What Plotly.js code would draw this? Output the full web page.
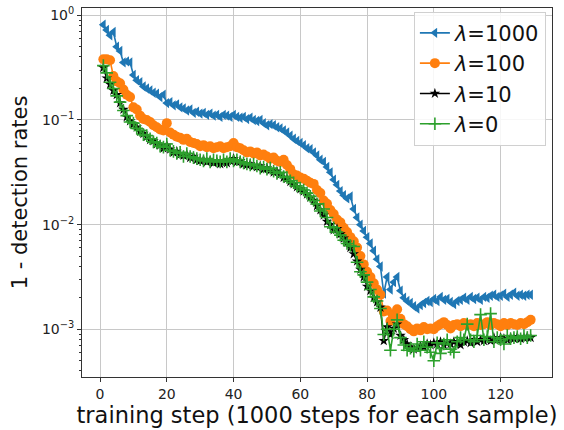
<!DOCTYPE html>
<html>
<head>
<meta charset="utf-8">
<script src="https://cdn.plot.ly/plotly-3.0.1.min.js"></script>
<style>html,body{margin:0;padding:0;background:#fff}#chart{width:564px;height:430px}</style>
</head>
<body>
<div id="chart"></div>
<script>
var steps = [];
for (var i = 1; i <= 129; i++) steps.push(i);

var seriesNames = ["<i>λ</i>=1000", "<i>λ</i>=100", "<i>λ</i>=10", "<i>λ</i>=0"];

var lambda1000 = [0.813,0.724,0.646,0.692,0.501,0.457,0.355,0.363,0.355,0.269,
0.240,0.229,0.209,0.200,0.191,0.182,0.178,0.166,0.174,0.145,
0.148,0.138,0.141,0.132,0.129,0.123,0.126,0.117,0.120,0.115,
0.117,0.112,0.115,0.110,0.112,0.107,0.112,0.110,0.107,0.112,
0.107,0.105,0.107,0.102,0.105,0.100,0.0977,0.100,0.0933,0.0891,
0.0912,0.0891,0.0851,0.0832,0.0794,0.0759,0.0708,0.0661,0.0631,0.0603,
0.0575,0.0537,0.0525,0.0490,0.0457,0.0417,0.0398,0.0355,0.0316,0.0269,
0.0240,0.0209,0.0191,0.0178,0.0186,0.0141,0.0117,0.0100,0.00871,0.00759,
0.00661,0.00562,0.00468,0.00398,0.00219,0.00316,0.00240,0.00282,0.00316,0.00234,
0.00200,0.00186,0.00178,0.00166,0.00158,0.00170,0.00178,0.00186,0.00182,0.00195,
0.00186,0.00204,0.00191,0.00195,0.00182,0.00174,0.00186,0.00191,0.00200,0.00191,
0.00204,0.00195,0.00200,0.00191,0.00204,0.00200,0.00209,0.00214,0.00204,0.00209,
0.00219,0.00204,0.00214,0.00224,0.00209,0.00214,0.00209,0.00214,0.00214];

var lambda100 = [0.380,0.380,0.372,0.263,0.234,0.224,0.195,0.174,0.166,0.132,
0.126,0.110,0.102,0.100,0.0955,0.0891,0.0851,0.0813,0.0794,0.0933,
0.0759,0.0724,0.0692,0.0676,0.0646,0.0661,0.0617,0.0603,0.0589,0.0562,
0.0575,0.0550,0.0562,0.0537,0.0550,0.0562,0.0537,0.0550,0.0562,0.0603,
0.0550,0.0537,0.0513,0.0490,0.0501,0.0479,0.0490,0.0457,0.0468,0.0447,
0.0427,0.0437,0.0407,0.0398,0.0417,0.0372,0.0339,0.0302,0.0295,0.0282,
0.0275,0.0263,0.0251,0.0245,0.0214,0.0200,0.0170,0.0158,0.0138,0.0126,
0.0112,0.0105,0.00933,0.00851,0.00759,0.00692,0.00603,0.00501,0.00417,0.00355,
0.00316,0.00275,0.00240,0.00214,0.00148,0.00151,0.00120,0.00138,0.00155,0.00126,
0.00112,0.00107,0.00100,0.000955,0.00102,0.000977,0.00105,0.00100,0.00102,0.00100,
0.00107,0.00112,0.00117,0.00110,0.00102,0.00110,0.00112,0.00107,0.00115,0.00110,
0.00112,0.00107,0.00115,0.00110,0.00112,0.00117,0.00110,0.00115,0.00112,0.00107,
0.00115,0.00110,0.00115,0.00112,0.00110,0.00115,0.00112,0.00117,0.00123];

var lambda10 = [0.316,0.251,0.219,0.191,0.174,0.145,0.126,0.107,0.0977,0.0912,
0.0851,0.0776,0.0741,0.0692,0.0646,0.0631,0.0589,0.0575,0.0537,0.0575,
0.0525,0.0490,0.0501,0.0468,0.0457,0.0468,0.0437,0.0447,0.0417,0.0407,
0.0417,0.0398,0.0407,0.0389,0.0398,0.0380,0.0398,0.0389,0.0407,0.0427,
0.0398,0.0407,0.0380,0.0372,0.0380,0.0363,0.0355,0.0363,0.0339,0.0347,
0.0331,0.0316,0.0324,0.0302,0.0282,0.0275,0.0257,0.0245,0.0229,0.0219,
0.0209,0.0195,0.0182,0.0170,0.0151,0.0138,0.0123,0.0107,0.0100,0.00891,
0.00912,0.00813,0.00741,0.00676,0.00603,0.00525,0.00447,0.00372,0.00316,0.00257,
0.00234,0.00200,0.00182,0.00162,0.000776,0.00105,0.000891,0.00102,0.00112,0.000871,
0.000794,0.000724,0.000676,0.000646,0.000661,0.000692,0.000676,0.000724,0.000708,0.000741,
0.000724,0.000759,0.000708,0.000741,0.000724,0.000759,0.000741,0.000708,0.000759,0.000776,
0.000741,0.000794,0.000759,0.000794,0.000776,0.000813,0.000776,0.000832,0.000794,0.000832,
0.000813,0.000794,0.000832,0.000813,0.000851,0.000813,0.000832,0.000851,0.000832];

var lambda0 = [0.331,0.282,0.229,0.200,0.170,0.148,0.123,0.110,0.0955,0.0933,
0.0832,0.0794,0.0724,0.0708,0.0661,0.0617,0.0603,0.0562,0.0550,0.0589,
0.0513,0.0501,0.0479,0.0490,0.0447,0.0479,0.0447,0.0437,0.0427,0.0417,
0.0407,0.0427,0.0398,0.0417,0.0407,0.0398,0.0417,0.0398,0.0427,0.0407,
0.0417,0.0398,0.0389,0.0380,0.0372,0.0380,0.0363,0.0347,0.0355,0.0339,
0.0347,0.0324,0.0309,0.0316,0.0288,0.0282,0.0263,0.0251,0.0234,0.0224,
0.0214,0.0200,0.0186,0.0170,0.0158,0.0135,0.0141,0.0117,0.00955,0.00933,
0.00851,0.00794,0.00708,0.00661,0.00631,0.00617,0.00437,0.00355,0.00331,0.00282,
0.00240,0.00204,0.00186,0.00158,0.000891,0.00100,0.000631,0.00100,0.00123,0.000832,
0.000708,0.000631,0.000661,0.000617,0.000724,0.000631,0.000759,0.000676,0.000603,0.000501,
0.000741,0.000589,0.000724,0.000794,0.000646,0.000603,0.000759,0.000832,0.000794,0.00112,
0.000794,0.000759,0.000871,0.00138,0.000794,0.000851,0.00141,0.000759,0.000832,0.000794,
0.000724,0.000871,0.000813,0.000832,0.000851,0.000813,0.000871,0.000832,0.000871];

var yTickVals = [0.001, 0.01, 0.1, 1];
var yTickText = ["10<sup>−3</sup>", "10<sup>−2</sup>", "10<sup>−1</sup>", "10<sup>0</sup>"];
var xTickVals = [0, 20, 40, 60, 80, 100, 120];

var minorVals = [];
[0.0001, 0.001, 0.01, 0.1].forEach(function (d) {
  for (var k = 2; k <= 9; k++) minorVals.push(k * d);
});

var traces = [
  {x: steps, y: lambda1000, name: seriesNames[0], mode: "lines+markers",
   line: {color: "#1f77b4", width: 1.6},
   marker: {symbol: "triangle-left", size: 9, color: "#1f77b4"}},
  {x: steps, y: lambda100, name: seriesNames[1], mode: "lines+markers",
   line: {color: "#ff7f0e", width: 1.6},
   marker: {symbol: "circle", size: 10, color: "#ff7f0e"}},
  {x: steps, y: lambda10, name: seriesNames[2], mode: "lines+markers",
   line: {color: "#000000", width: 1.6},
   marker: {symbol: "star", size: 8, color: "#000000"}},
  {x: steps, y: lambda0, name: seriesNames[3], mode: "lines+markers",
   line: {color: "#2ca02c", width: 1.6},
   marker: {symbol: "cross-thin", size: 9, color: "#2ca02c", line: {color: "#2ca02c", width: 1.6}}}
];

var font = "DejaVu Sans, sans-serif";
var layout = {
  width: 564, height: 430,
  margin: {l: 82, r: 12, t: 8, b: 53},
  paper_bgcolor: "#ffffff", plot_bgcolor: "#ffffff",
  font: {family: font, color: "#222"},
  showlegend: true,
  legend: {
    x: 0.987, y: 0.99, xanchor: "right", yanchor: "top",
    bgcolor: "rgba(255,255,255,0.85)", bordercolor: "#d0d0d0", borderwidth: 1,
    font: {family: font, size: 21, color: "#111"},
    itemwidth: 30, tracegroupgap: 0
  },
  xaxis: {
    range: [-5.4, 135.4], tickmode: "array", tickvals: xTickVals,
    showgrid: true, gridcolor: "#c8c8c8", gridwidth: 1,
    zeroline: false, showline: true, mirror: true, linecolor: "#333", linewidth: 1,
    ticks: "outside", ticklen: 4, tickcolor: "#333",
    tickfont: {family: font, size: 14, color: "#222"},
    title: {text: "training step (1000 steps for each sample)", font: {family: font, size: 22.5, color: "#111"}, standoff: 2}
  },
  yaxis: {
    type: "log", range: [-3.456, 0.07], tickmode: "array",
    tickvals: yTickVals, ticktext: yTickText,
    showgrid: true, gridcolor: "#c8c8c8", gridwidth: 1,
    zeroline: false, showline: true, mirror: true, linecolor: "#333", linewidth: 1,
    ticks: "outside", ticklen: 4, tickcolor: "#333",
    tickfont: {family: font, size: 14, color: "#222"},
    minor: {tickmode: "array", tickvals: minorVals, ticks: "outside", ticklen: 2, tickcolor: "#333", showgrid: false},
    title: {text: "1 - detection rates", font: {family: font, size: 21, color: "#111"}, standoff: 8}
  }
};

Plotly.newPlot("chart", traces, layout, {displayModeBar: false, staticPlot: true});
</script>
</body>
</html>
